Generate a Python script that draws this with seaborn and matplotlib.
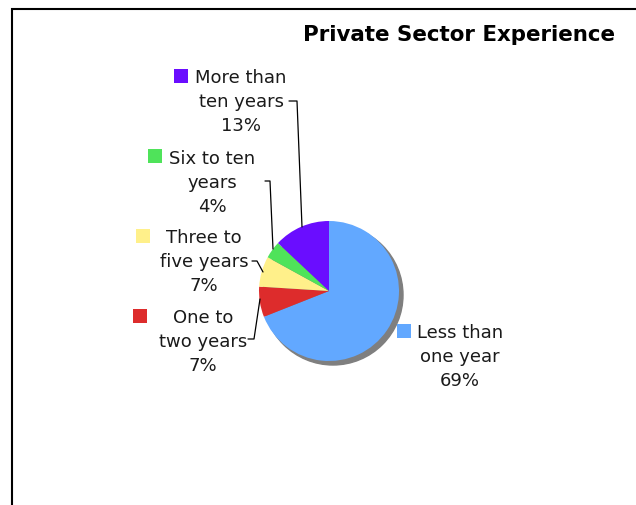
import matplotlib
matplotlib.use("Agg")
import matplotlib.pyplot as plt
from matplotlib.patches import Circle, Rectangle
import seaborn as sns

sns.set_theme(style="white")
plt.rcParams['font.family'] = ['DejaVu Sans']

title = "Private Sector Experience"
categories = ["Less than\none year", "One to\ntwo years", "Three to\nfive years",
              "Six to ten\nyears", "More than\nten years"]
shares = [69, 7, 7, 4, 13]
colors = ["#62A8FF", "#DD2C2C", "#FFF08A", "#4FE35A", "#6A0DFF"]

W, H = 636, 506
fig = plt.figure(figsize=(W / 100, H / 100), dpi=100)
ax = fig.add_axes([0, 0, 1, 1])

cx, cy, r = 329, H - 292, 70

# drop shadow behind the pie
ax.add_patch(Circle((cx + 4, cy - 4), r, color="#7f7f7f", zorder=1))
wedges, _ = ax.pie(shares, colors=colors, startangle=90, counterclock=False,
                   center=(cx, cy), radius=r,
                   wedgeprops=dict(linewidth=0, zorder=2))

ax.set_xlim(0, W)
ax.set_ylim(0, H)
ax.set_aspect("equal")
ax.axis("off")

# chart frame
ax.add_patch(Rectangle((12, -20), W, H - 10 + 20, fill=False,
                       edgecolor="black", linewidth=1.5, zorder=0))

ax.text(459, H - 35, title, ha="center", va="center",
        fontsize=15.4, fontweight="bold", color="black")

# label blocks: text centre, key square position, leader polyline (pixel coords, y from top)
label_layout = [
    dict(tx=460, ty=357, key=(397, 325), lead=[]),
    dict(tx=203, ty=342, key=(133, 310), lead=[(248, 340), (254, 340), (260, 300)]),
    dict(tx=204, ty=262, key=(136, 230), lead=[(252, 262), (257, 262), (263, 273)]),
    dict(tx=212, ty=183, key=(148, 150), lead=[(265, 182), (270, 182), (273, 250)]),
    dict(tx=241, ty=102, key=(174, 70), lead=[(289, 102), (297, 102), (302, 228)]),
]

for cat, val, col, lay in zip(categories, shares, colors, label_layout):
    ax.text(lay["tx"], H - lay["ty"], f"{cat}\n{val}%", ha="center", va="center",
            fontsize=13, color="#1a1a1a", linespacing=1.42, zorder=5)
    kx, ky = lay["key"]
    ax.add_patch(Rectangle((kx, H - ky - 14), 14, 14, color=col, linewidth=0, zorder=5))
    if lay["lead"]:
        xs = [p[0] for p in lay["lead"]]
        ys = [H - p[1] for p in lay["lead"]]
        ax.plot(xs, ys, color="black", linewidth=0.9, zorder=6)

fig.savefig("out.png", dpi=100, facecolor="white")
